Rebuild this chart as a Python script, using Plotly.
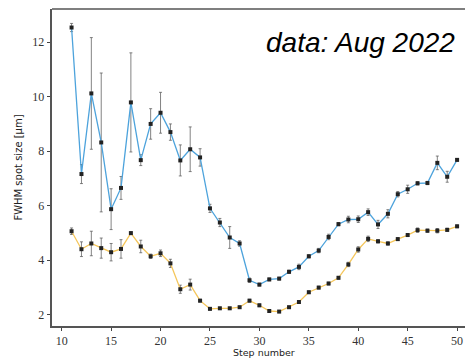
import plotly.graph_objects as go

steps = list(range(11, 51))

blue_vals = [12.54, 7.16, 10.12, 8.32, 5.87, 6.65, 9.79, 7.67, 9.00, 9.41,
             8.70, 7.66, 8.07, 7.77, 5.90, 5.38, 4.83, 4.61, 3.26, 3.10,
             3.29, 3.32, 3.57, 3.75, 4.14, 4.35, 4.85, 5.32, 5.49, 5.50,
             5.76, 5.31, 5.70, 6.42, 6.60, 6.82, 6.83, 7.57, 7.06, 7.68]
blue_err = [0.15, 0.35, 2.05, 2.55, 0.75, 0.42, 1.82, 0.20, 0.56, 0.75,
            0.30, 0.57, 0.82, 0.32, 0.15, 0.15, 0.40, 0.10, 0.08, 0.05,
            0.05, 0.05, 0.06, 0.10, 0.06, 0.08, 0.10, 0.06, 0.12, 0.12,
            0.12, 0.15, 0.15, 0.10, 0.15, 0.06, 0.06, 0.25, 0.20, 0.05]

yellow_vals = [5.06, 4.40, 4.61, 4.44, 4.29, 4.41, 4.99, 4.50, 4.14, 4.25,
               3.88, 2.93, 3.10, 2.51, 2.21, 2.23, 2.23, 2.27, 2.51, 2.34,
               2.13, 2.11, 2.27, 2.46, 2.82, 2.99, 3.14, 3.35, 3.84, 4.39,
               4.78, 4.69, 4.61, 4.77, 4.92, 5.10, 5.08, 5.08, 5.11, 5.24]
yellow_err = [0.12, 0.27, 0.45, 0.37, 0.32, 0.34, 0.05, 0.23, 0.08, 0.12,
              0.15, 0.15, 0.20, 0.05, 0.04, 0.04, 0.04, 0.04, 0.05, 0.05,
              0.04, 0.04, 0.04, 0.05, 0.05, 0.05, 0.05, 0.05, 0.08, 0.10,
              0.10, 0.06, 0.06, 0.05, 0.05, 0.08, 0.06, 0.08, 0.06, 0.05]

x_ticks = [10, 15, 20, 25, 30, 35, 40, 45, 50]
y_ticks = [2, 4, 6, 8, 10, 12]

BLUE = "#4da3dc"
YELLOW = "#f5c65a"

fig = go.Figure()
for vals, err, col in [(blue_vals, blue_err, BLUE), (yellow_vals, yellow_err, YELLOW)]:
    fig.add_trace(go.Scatter(
        x=steps, y=vals, mode="lines+markers",
        line=dict(color=col, width=1.3),
        marker=dict(symbol="square", size=4, color="#222"),
        error_y=dict(type="data", array=err, visible=True,
                     color="rgba(90,90,90,0.75)", thickness=1, width=1.5),
        showlegend=False,
    ))

PH = 358 - 9 - 32  # plot height in px
fig.add_annotation(x=(457 - 52) / (465 - 52), y=1 - (42 - 9) / PH,
                   xref="paper", yref="paper",
                   xanchor="right", yanchor="middle", showarrow=False,
                   text="<i>data: Aug 2022</i>",
                   font=dict(family="Liberation Sans, Arial", size=28, color="#000"))

fig.add_annotation(x=(264 - 52) / (465 - 52), y=-(352.5 - 326) / PH,
                   xref="paper", yref="paper",
                   xanchor="center", yanchor="middle", showarrow=False,
                   text="Step number",
                   font=dict(family="DejaVu Sans", size=9.5, color="#222"))

axis_common = dict(
    showgrid=False, zeroline=False, ticks="outside", ticklen=3.5, tickwidth=1,
    tickcolor="#444", showline=True, linecolor="#555", linewidth=1.6,
    tickfont=dict(family="Liberation Serif, DejaVu Serif", size=12, color="#333"),
)

fig.update_layout(
    width=465, height=358,
    margin=dict(l=52, r=0, t=9, b=32),
    plot_bgcolor="white", paper_bgcolor="white",
    xaxis=dict(range=[9.02, 50.8], tickvals=x_ticks, mirror=False,
               ticklabelstandoff=-1, **axis_common),
    yaxis=dict(range=[1.58, 13.22], tickvals=y_ticks,
               title=dict(text="FWHM spot size [μm]", standoff=8,
                          font=dict(family="DejaVu Sans", size=10, color="#222")),
               **axis_common),
)
# top spine
fig.add_shape(type="line", xref="paper", yref="paper", x0=0, x1=1, y0=1, y1=1,
              line=dict(color="#555", width=1.6))

fig.write_html(
    "out.html",
    config={"displayModeBar": False},
    post_script="document.body.style.margin='0';document.body.style.overflow='hidden';",
)
